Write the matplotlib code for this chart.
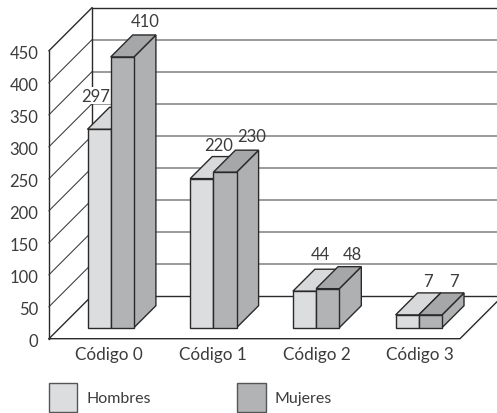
import matplotlib
matplotlib.use("Agg")
import matplotlib.pyplot as plt
from matplotlib.patches import Polygon, Rectangle

plt.rcParams['font.family'] = ['Lato', 'DejaVu Sans']

categories = ["Código 0", "Código 1", "Código 2", "Código 3"]
hombres = [297, 220, 44, 7]
mujeres = [410, 230, 48, 7]
y_ticks = [0, 50, 100, 150, 200, 250, 300, 350, 400, 450]
legend_names = ["Hombres", "Mujeres"]

# style / layout (pixel based geometry of the pseudo-3D frame)
W, H = 497, 414
PX = 0.64            # pixels per value unit
Y0 = 339.7           # pixel row of value 0 on the front edge
LIGHT, LIGHT_TOP = "#DCDDDF", "#D8D9DB"
MID, MID_TOP, MID_SIDE = "#B2B3B5", "#A6A7A9", "#AFB0B2"
EDGE = "#2a2a2a"
TEXT = "#3c3c3c"
GRID = "#808080"


def v(px_from_y0):
    return px_from_y0 / PX


fig = plt.figure(figsize=(W / 100, H / 100), dpi=100)
ax = fig.add_axes([0, 0, 1, 1])
ax.set_xlim(0, W)
ax.set_ylim(v(Y0 - H), v(Y0))
ax.axis("off")

WALL_X, BACK_X = 49, 92
WALL_D = v(43)
top = y_ticks[-1]

# back wall grid lines
for t in y_ticks:
    dark = t in (y_ticks[0], y_ticks[-1])
    ax.plot([BACK_X, W], [t + WALL_D] * 2, color=EDGE if dark else GRID,
            lw=1.0 if dark else 1.1, zorder=1, solid_capstyle="butt")
    ax.plot([WALL_X, BACK_X], [t, t + WALL_D], color=EDGE if dark else "#444444",
            lw=1.0 if dark else 0.8, zorder=1)
# walls and floor
ax.plot([WALL_X, WALL_X], [0, top], color=EDGE, lw=1.0, zorder=1)
ax.plot([BACK_X, BACK_X], [WALL_D, top + WALL_D], color=EDGE, lw=1.0, zorder=1)
ax.plot([WALL_X, 460, W], [0, 0, v(37)], color=EDGE, lw=1.0, zorder=1)


def box(x0, value, width, face, face_top, face_side, z):
    base = v(11)             # front plane of the bars sits 11 px into the floor
    lift = 13                # the original bars start slightly above their plane
    t = base + value + lift
    d = v(22)
    dx = 22
    x1 = x0 + width
    kw = dict(edgecolor=EDGE, linewidth=1.0, joinstyle="miter", zorder=z)
    ax.add_patch(Polygon([(x1, base), (x1 + dx, base + d), (x1 + dx, t + d), (x1, t)],
                         facecolor=face_side, **kw))
    ax.add_patch(Polygon([(x0, t), (x0 + dx, t + d), (x1 + dx, t + d), (x1, t)],
                         facecolor=face_top, **kw))
    ax.add_patch(Polygon([(x0, base), (x1, base), (x1, t), (x0, t)],
                         facecolor=face, **kw))


GROUP_X0, GROUP_STEP, BAR_W = 87.5, 102.7, 23.2
for i, (h, m) in enumerate(zip(hombres, mujeres)):
    x0 = GROUP_X0 + i * GROUP_STEP
    box(x0, h, BAR_W, LIGHT, LIGHT_TOP, LIGHT, 3)
    box(x0 + BAR_W, m, BAR_W, MID, MID_TOP, MID_SIDE, 4)

# value labels: offsets from each bar's left edge / value height, in pixels
H_DX = [8.5, 28, 27, 32]
M_DX = [34.5, 38.7, 36, 35]
H_DY = [53, 53, 57, 53.5]
M_DY = [55, 55, 54, 53.5]
for i, (h, m) in enumerate(zip(hombres, mujeres)):
    x0 = GROUP_X0 + i * GROUP_STEP
    bbox = dict(facecolor="white", edgecolor="none", pad=0.6) if i == 0 else None
    ax.text(x0 + H_DX[i], h + v(H_DY[i]), str(h), ha="center", va="center",
            fontsize=12, color=TEXT, zorder=2 if i == 0 else 6, bbox=bbox)
    ax.text(x0 + BAR_W + M_DX[i], m + v(M_DY[i]), str(m), ha="center", va="center",
            fontsize=12, color=TEXT, zorder=6)

# y tick labels
for t in y_ticks:
    ax.text(38.5, t - v(2), str(t), ha="right", va="center", fontsize=12, color=TEXT)

# category labels
for i, c in enumerate(categories):
    ax.text(109 + i * 103.7, v(-15), c, ha="center", va="center", fontsize=12.3, color=TEXT)

# legend
for x, name, col in zip([48.5, 237], legend_names, [LIGHT, MID]):
    ax.add_patch(Rectangle((x, v(Y0 - 413)), 28.5, v(29), facecolor=col,
                           edgecolor="#555555", linewidth=1.0, zorder=2))
    ax.text(x + 38, v(Y0 - 399), name, ha="left", va="center", fontsize=11.5, color=TEXT)

fig.savefig("out.png", dpi=100)
